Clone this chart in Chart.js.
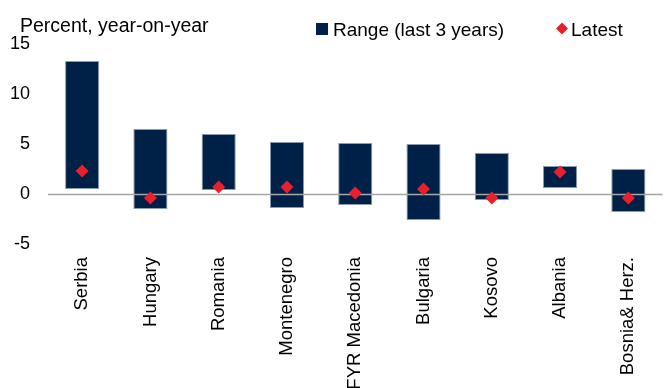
<!DOCTYPE html>
<html>
<head>
<meta charset="utf-8">
<script src="https://cdn.jsdelivr.net/npm/chart.js@4/dist/chart.umd.min.js"></script>
<style>
  html, body { margin: 0; padding: 0; background: #fff; overflow: hidden; }
  #wrap { width: 669px; height: 388px; }
</style>
</head>
<body>
<div id="wrap"><canvas id="c" width="669" height="388"></canvas></div>
<script>
const categories = ['Serbia', 'Hungary', 'Romania', 'Montenegro', 'FYR Macedonia', 'Bulgaria', 'Kosovo', 'Albania', 'Bosnia& Herz.'];
const rangeLow  = [0.5, -1.5, 0.4, -1.4, -1.1, -2.6, -0.6, 0.6, -1.8];
const rangeHigh = [13.3, 6.5, 6.0, 5.2, 5.1, 5.0, 4.1, 2.8, 2.5];
const latest    = [2.3, -0.4, 0.7, 0.7, 0.1, 0.5, -0.4, 2.2, -0.4];
const yTicks    = [-5, 0, 5, 10, 15];
const axisTitle = 'Percent, year-on-year';
const seriesNames = ['Range (last 3 years)', 'Latest'];

const NAVY = '#002147';
const RED = '#E8202C';
const FONT = '"Liberation Sans", Arial, sans-serif';

const overlay = {
  id: 'overlay',
  afterDatasetDraw(chart, args) {
    if (args.index !== 0) return;
    const ctx = chart.ctx, y = chart.scales.y, a = chart.chartArea;
    const py = Math.round(y.getPixelForValue(0)) + 0.5;
    ctx.save();
    ctx.strokeStyle = '#A6A6A6';
    ctx.lineWidth = 1.5;
    ctx.beginPath();
    ctx.moveTo(a.left, py);
    ctx.lineTo(a.right, py);
    ctx.stroke();
    ctx.restore();
  },
  afterDraw(chart) {
    const ctx = chart.ctx;
    ctx.save();
    ctx.fillStyle = '#000';
    ctx.textBaseline = 'alphabetic';
    ctx.font = '19.5px ' + FONT;
    ctx.fillText(axisTitle, 20, 32);
    // legend
    ctx.font = '19px ' + FONT;
    ctx.fillStyle = NAVY;
    ctx.fillRect(316, 23, 12, 12);
    ctx.fillStyle = '#000';
    ctx.fillText(seriesNames[0], 333, 36);
    ctx.fillStyle = RED;
    ctx.beginPath();
    ctx.moveTo(562, 22.5);
    ctx.lineTo(568, 28.5);
    ctx.lineTo(562, 34.5);
    ctx.lineTo(556, 28.5);
    ctx.closePath();
    ctx.fill();
    ctx.fillStyle = '#000';
    ctx.fillText(seriesNames[1], 571, 36);
    ctx.restore();
  }
};

new Chart(document.getElementById('c'), {
  data: {
    labels: categories,
    datasets: [
      {
        type: 'bar',
        label: seriesNames[0],
        data: categories.map((_, i) => [rangeLow[i], rangeHigh[i]]),
        backgroundColor: NAVY,
        borderColor: '#8A9BB0',
        borderWidth: 1,
        borderSkipped: false,
        barPercentage: 1,
        categoryPercentage: 0.5,
        order: 2
      },
      {
        type: 'line',
        label: seriesNames[1],
        data: latest,
        showLine: false,
        pointStyle: 'rectRot',
        pointRadius: 6.5,
        pointHoverRadius: 6.5,
        pointBackgroundColor: RED,
        pointBorderColor: RED,
        pointBorderWidth: 0,
        order: 1
      }
    ]
  },
  options: {
    responsive: false,
    animation: false,
    events: [],
    layout: { padding: { top: 44, left: 0, right: 0, bottom: 0 } },
    plugins: {
      legend: { display: false },
      title: { display: false },
      tooltip: { enabled: false }
    },
    scales: {
      x: {
        type: 'category',
        offset: true,
        grid: { display: false, drawTicks: false },
        border: { display: false },
        ticks: {
          minRotation: 90,
          maxRotation: 90,
          autoSkip: false,
          padding: 13,
          color: '#000',
          font: { family: FONT, size: 18.5 }
        },
        afterFit(scale) { scale.height = 144; }
      },
      y: {
        min: -5,
        max: 15,
        grid: { display: false, drawTicks: false },
        border: { display: false },
        afterBuildTicks(scale) { scale.ticks = yTicks.map(v => ({ value: v })); },
        ticks: {
          stepSize: 5,
          padding: 18,
          color: '#000',
          font: { family: FONT, size: 18 }
        },
        afterFit(scale) { scale.width = 48; }
      }
    }
  },
  plugins: [overlay]
});
</script>
</body>
</html>
